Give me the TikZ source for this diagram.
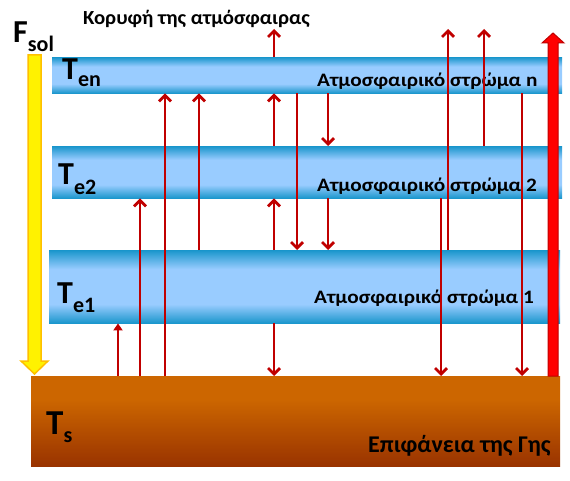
\documentclass[tikz,border=0pt]{standalone}
\usepackage{fontspec}
\setmainfont{Carlito}
\newfontfamily\topfont[FakeStretch=1.04]{Carlito}
\newfontfamily\layfont[FakeStretch=1.12]{Carlito}
\usetikzlibrary{arrows.meta}
\definecolor{laydark}{HTML}{1A96CC}
\definecolor{laylight}{HTML}{99CCFF}
\definecolor{soiltop}{HTML}{CC6600}
\definecolor{soilbot}{HTML}{993300}
\definecolor{raycol}{HTML}{C00000}
\definecolor{solrim}{HTML}{FFC000}
\pgfdeclareverticalshading{layershade}{100bp}{color(0bp)=(laydark); color(25bp)=(laydark); color(38bp)=(laylight); color(62bp)=(laylight); color(75bp)=(laydark); color(100bp)=(laydark)}
\pgfdeclareverticalshading{soilshade}{100bp}{color(0bp)=(soilbot); color(25bp)=(soilbot); color(62bp)=(soiltop); color(75bp)=(soiltop); color(100bp)=(soiltop)}
\newcommand\tsub[3][8pt]{#2\raisebox{-#1}{\fontsize{22}{22}\selectfont #3}}
\tikzset{
  layer/.style={anchor=north west, inner sep=0pt, shade, shading=layershade},
  ray/.style={raycol, line width=2.8pt, -{Straight Barb[length=6pt,width=12pt]}},
  lbl/.style={anchor=base west, inner sep=0pt, font=\layfont\bfseries\fontsize{19}{19}\selectfont},
  temp/.style={anchor=base west, inner sep=0pt, font=\bfseries\fontsize{32}{32}\selectfont}
}
\begin{document}
\begin{tikzpicture}[x=1pt,y=-1pt]
  \useasboundingbox (0,0) rectangle (570,481);
  % layers and surface
  \node[layer, minimum width=510pt, minimum height=36pt] (ln) at (52,57) {};
  \node[layer, minimum width=510pt, minimum height=52pt] (l2) at (52,146) {};
  \node[layer, minimum width=511pt, minimum height=73pt] (l1) at (49,250) {};
  \node[anchor=north west, inner sep=0pt, shade, shading=soilshade, minimum width=529pt, minimum height=90pt] (soil) at (31,376) {};
  \coordinate (top) at (0,29);
  % texts
  \node[lbl, font=\topfont\bfseries\fontsize{20}{20}\selectfont] (toplbl) at (83,25) {Κορυφή της ατμόσφαιρας};
  \node[temp] (fsol) at (13,43) {\tsub[9pt]{F}{sol}};
  \node[temp] (ten) at (62,80) {\tsub[7pt]{T}{en}};
  \node[temp] (te2) at (58,185) {\tsub[10pt]{T}{e2}};
  \node[temp] (te1) at (57,303) {\tsub[9pt]{T}{e1}};
  \node[temp, font=\bfseries\fontsize{35}{35}\selectfont] (ts) at (46,434) {\tsub{T}{s}};
  \node[lbl] (lnlbl) at (317,87) {Ατμοσφαιρικό στρώμα n};
  \node[lbl] (l2lbl) at (317,192) {Ατμοσφαιρικό στρώμα 2};
  \node[lbl] (l1lbl) at (314,303) {Ατμοσφαιρικό στρώμα 1};
  \node[lbl, font=\bfseries\fontsize{24}{24}\selectfont] (soillbl) at (368,452) {Επιφάνεια της Γης};
  % solar flux
  \draw[fill=yellow, draw=solrim, line width=1.5pt] (28,55) -- (28,361) -- (21,361) -- (34.5,374) -- (48,361) -- (41,361) -- (41,55) -- cycle;
  % upward rays
  \draw[raycol, line width=2.8pt, -{Triangle[length=7pt,width=9pt]}] (118,0 |- soil.north) -- (118,0 |- l1.south);
  \draw[ray] (140,0 |- soil.north) -- (140,0 |- l2.south);
  \draw[ray] (165,0 |- soil.north) -- (165,0 |- ln.south);
  \draw[ray] (199,0 |- l1.north) -- (199,0 |- ln.south);
  \draw[ray] (274,0 |- l1.north) -- (274,0 |- l2.south);
  \draw[ray] (274,0 |- l2.north) -- (274,0 |- ln.south);
  \draw[ray] (274,0 |- ln.north) -- (274,0 |- top);
  \draw[ray] (448,0 |- l1.north) -- (448,0 |- top);
  \draw[ray] (484,0 |- l2.north) -- (484,0 |- top);
  % downward rays
  \draw[ray] (274,0 |- l1.south) -- (274,0 |- soil.north);
  \draw[ray] (297,0 |- ln.south) -- (297,0 |- l1.north);
  \draw[ray] (328,0 |- ln.south) -- (328,0 |- l2.north);
  \draw[ray] (328,0 |- l2.south) -- (328,0 |- l1.north);
  \draw[ray] (441,0 |- l2.south) -- (441,0 |- soil.north);
  \draw[ray] (522,0 |- ln.south) -- (522,0 |- soil.north);
  % outgoing flux
  \draw[fill=red, draw=raycol, line width=1pt] (548,376) -- (548,43) -- (542,43) -- (553,33) -- (564,43) -- (558,43) -- (558,376) -- cycle;
\end{tikzpicture}
\end{document}
